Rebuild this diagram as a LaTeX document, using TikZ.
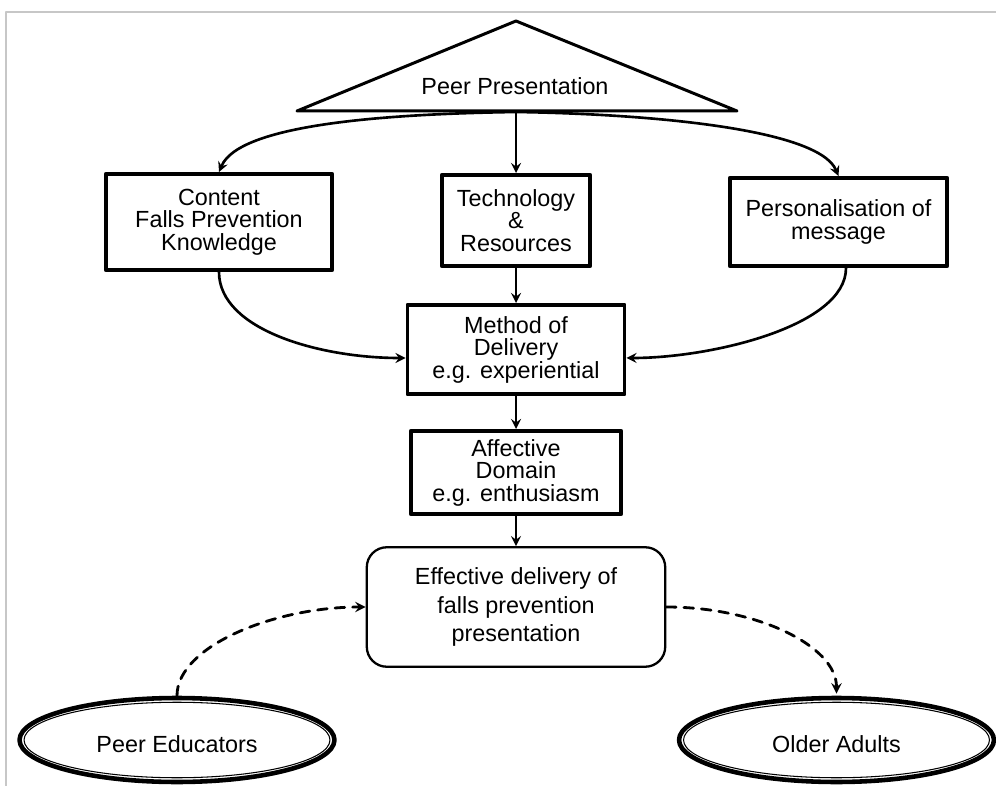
\documentclass[tikz,border=0pt]{standalone}
\usepackage{fontspec}
\setmainfont{Liberation Sans}
\usetikzlibrary{shapes.geometric}

\begin{document}
\begin{tikzpicture}[x=0.02cm, y=-0.02cm, line cap=round, line join=round, >=stealth,
		font=\fontsize{13.3}{12.8}\selectfont]
	\tikzset{box/.style={draw, line width=2pt, align=center, inner sep=0pt},
		goal/.style={draw, line width=1.3pt, rounded corners=0.4cm, align=center, inner sep=0pt,
			font=\fontsize{13.3}{16.2}\selectfont},
		group/.style={ellipse, draw, line width=2.6pt, inner sep=0pt, text height=14pt,
			minimum width=6.3cm, minimum height=1.68cm},
		flow/.style={->, line width=1.5pt},
		link/.style={->, line width=1.6pt, dash pattern=on 5.5pt off 4.5pt}}
	\useasboundingbox (0,0) rectangle (996,786);
	\draw[black!22, line width=1.2pt] (6,786) -- (6,12) -- (996,12);
	% triangle on top
	\draw[line width=1.7pt] (516,21) -- (737,111) -- (297,111) -- cycle;
	\node (pp) at (515,86) {Peer Presentation};
	\coordinate (base) at (516,112);
	% boxes
	\node[box, minimum width=4.53cm, minimum height=1.93cm] (content) at (219,222) {Content\\Falls Prevention\\Knowledge};
	\node[box, minimum width=2.97cm, minimum height=1.83cm] (tech) at (516,220.5) {Technology\\\&\\Resources};
	\node[box, minimum width=4.35cm, minimum height=1.77cm] (person) at (838.5,222) {Personalisation of\\message};
	\node[box, minimum width=4.35cm, minimum height=1.79cm] (method) at (516,349.5) {Method of\\Delivery\\e.g. experiential};
	\node[box, minimum width=4.21cm, minimum height=1.67cm] (affect) at (516,472.5) {Affective\\Domain\\e.g. enthusiasm};
	\node[goal, minimum width=5.97cm, minimum height=2.39cm] (effect) at (516,607) {Effective delivery of\\falls prevention\\presentation};
	% the two groups
	\node[group] (educ) at (177,740) {Peer Educators};
	\node[group] (adult) at (836.5,740) {Older Adults};
	\draw[line width=0.6pt] (educ.center) ellipse [x radius=3.06cm, y radius=0.755cm];
	\draw[line width=0.6pt] (adult.center) ellipse [x radius=3.06cm, y radius=0.755cm];
	% arrows
	\draw[flow] (base) -- (tech.north);
	\draw[flow] (base) .. controls +(-135,2) and +(20,-47) .. (content.north);
	\draw[flow] (base) .. controls +(135,2) and +(-20,-47) .. (person.north);
	\draw[flow] (content.south) .. controls +(0,58) and +(-85,0) .. ([yshift=-0.17cm]method.west);
	\draw[flow] ([xshift=0.15cm]person.south) .. controls +(0,58) and +(85,0) .. ([yshift=-0.17cm]method.east);
	\draw[flow] (tech.south) -- (method.north);
	\draw[flow] (method.south) -- (affect.north);
	\draw[flow] (affect.south) -- (effect.north);
	\draw[link] (educ.north) .. controls +(0,-50) and +(-90,0) .. (effect.west);
	\draw[link, shorten >=1.2pt] (effect.east) .. controls +(90,0) and +(0,-50) .. (adult.north);
\end{tikzpicture}
\end{document}
